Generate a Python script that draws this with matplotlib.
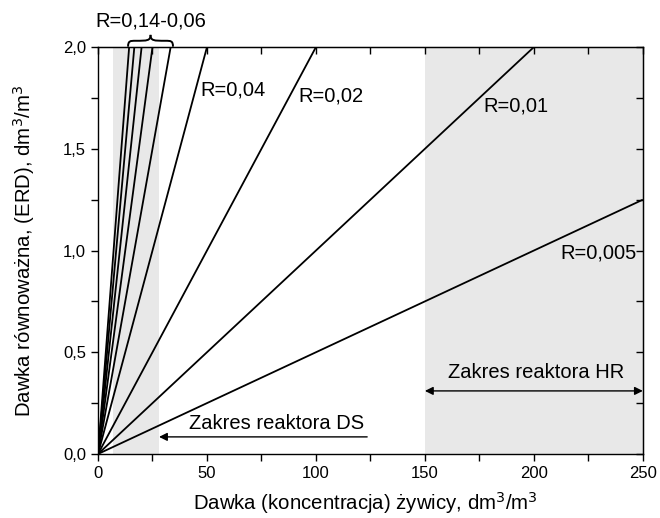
import matplotlib.pyplot as plt
import numpy as np
from matplotlib.path import Path
from matplotlib.patches import PathPatch

plt.rcParams['font.family'] = ['Liberation Sans', 'DejaVu Sans']

# ratios R of the lines ERD = R * dose
r_values = [0.14, 0.12, 0.10, 0.08, 0.06, 0.04, 0.02, 0.01, 0.005]
# shaded reactor ranges (dose, dm3/m3)
ds_range = (7, 28)
hr_range = (150, 250)

x_max = 250
y_max = 2.0

fig = plt.figure(figsize=(6.6, 5.18), dpi=100)
ax = fig.add_axes([0.1485, 0.1236, 0.8255, 0.7855])

ax.axvspan(*ds_range, color='#e8e8e8', lw=0, zorder=0)
ax.axvspan(*hr_range, color='#e8e8e8', lw=0, zorder=0)

for r in r_values:
    x_end = min(x_max, y_max / r)
    xs = np.array([0, x_end])
    ax.plot(xs, r * xs, color='black', lw=1.3, solid_capstyle='butt')

ax.set_xlim(0, x_max)
ax.set_ylim(0, y_max)

ax.set_xticks([0, 50, 100, 150, 200, 250])
ax.set_xticks(np.arange(25, 250, 50), minor=True)
ax.set_yticks([0, 0.5, 1.0, 1.5, 2.0])
ax.set_yticks([0.25, 0.75, 1.25, 1.75], minor=True)
ax.set_yticklabels(['0,0', '0,5', '1,0', '1,5', '2,0'])

ax.tick_params(which='both', direction='out', length=5, width=1, labelsize=12,
               top=False, right=False)
for s in ax.spines.values():
    s.set_linewidth(1)

# inward ticks on the top and right
top = ax.secondary_xaxis('top')
top.set_xticks(np.arange(0, 251, 25))
top.tick_params(direction='in', length=5, width=1, labeltop=False)
right = ax.secondary_yaxis('right')
right.set_yticks(np.arange(0, 2.01, 0.25))
right.tick_params(direction='in', length=5, width=1, labelright=False)

fig.text(0.5538, 0.003, 'Dawka (koncentracja) żywicy, dm$^3$/m$^3$', fontsize=14.7,
         ha='center', va='bottom')
fig.text(0.036, 0.515, 'Dawka równoważna, (ERD), dm$^3$/m$^3$', fontsize=14.7,
         ha='center', va='center', rotation=90)

fs = 14.5
ax.text(47, 1.79, 'R=0,04', fontsize=fs, va='center')
ax.text(92, 1.76, 'R=0,02', fontsize=fs, va='center')
ax.text(177, 1.71, 'R=0,01', fontsize=fs, va='center')
ax.text(212, 0.99, 'R=0,005', fontsize=fs, va='center')
ax.text(24, 2.13, 'R=0,14-0,06', fontsize=fs, va='center', ha='center', clip_on=False)

# curly brace over the steep group
b0, b1 = 13.8, 34.4
bm = (b0 + b1) / 2
yb, h = 2.002, 0.058
ym = yb + h * 0.5
codes = [Path.MOVETO, Path.CURVE4, Path.CURVE4, Path.CURVE4,
         Path.CURVE4, Path.CURVE4, Path.CURVE4]
for end, sgn in ((b0, 1), (b1, -1)):
    verts = [(end, yb), (end, ym), (end + sgn * 1.0, ym),
             (end + sgn * 3.5, ym),
             (bm - sgn * 1.5, ym), (bm, ym), (bm, yb + h)]
    ax.add_patch(PathPatch(Path(verts, codes), fill=False, lw=1.4, clip_on=False))

# reactor range arrows
ax.annotate('', xy=(ds_range[1], 0.084), xytext=(123.5, 0.084),
            arrowprops=dict(arrowstyle='-|>', color='black', lw=1, mutation_scale=12,
                            shrinkA=0, shrinkB=0))
ax.text(82, 0.15, 'Zakres reaktora DS', fontsize=fs, ha='center', va='center')
ax.annotate('', xy=(hr_range[0], 0.31), xytext=(hr_range[1], 0.31),
            arrowprops=dict(arrowstyle='<|-|>', color='black', lw=1, mutation_scale=12,
                            shrinkA=0, shrinkB=0))
ax.text(201, 0.40, 'Zakres reaktora HR', fontsize=fs, ha='center', va='center')

fig.savefig('out.png', dpi=100)
